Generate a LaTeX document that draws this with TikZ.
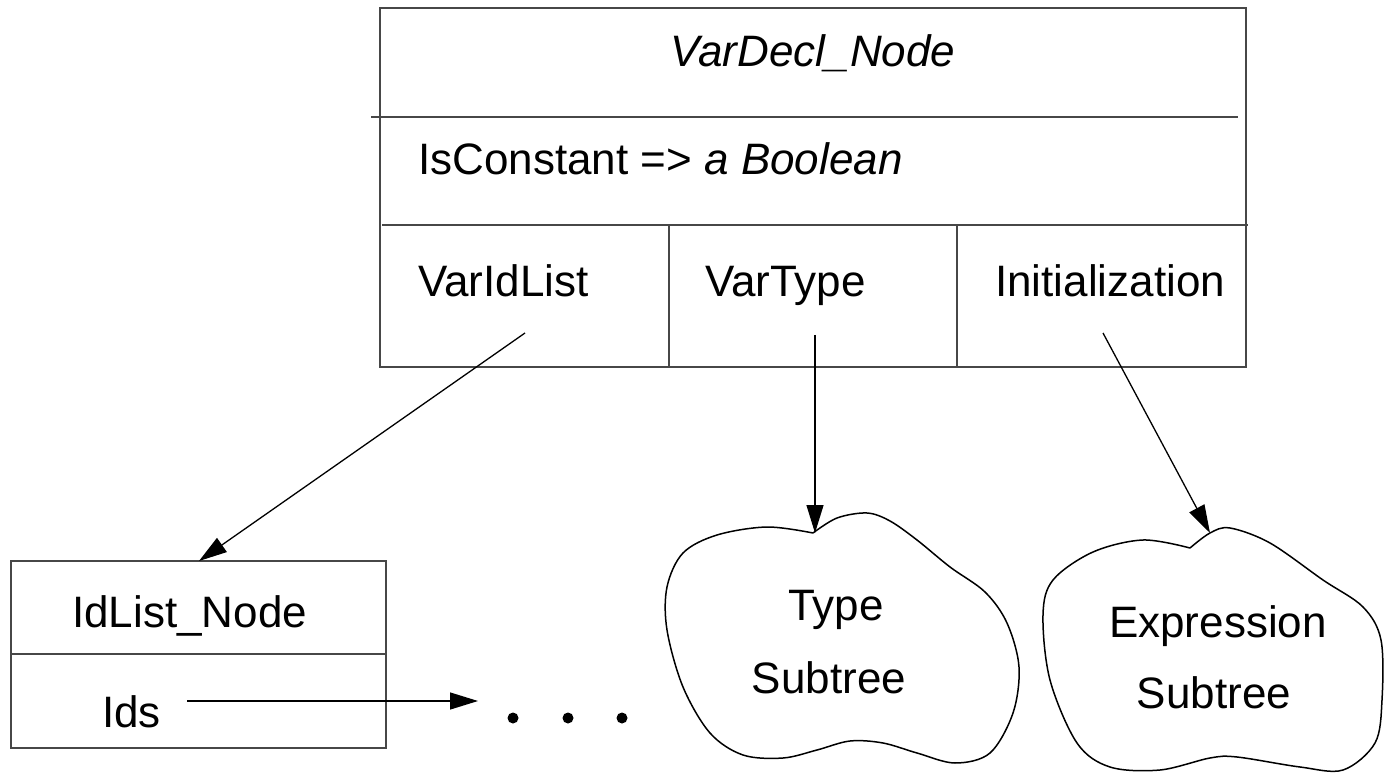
\documentclass[tikz,border=0pt]{standalone}
\usepackage{fontspec}
\setmainfont{Liberation Sans}
\usetikzlibrary{arrows.meta}

\tikzset{
  boxline/.style={draw=black!72, line width=2.2pt},
  link/.style={draw=black, line width=1.3pt, -{Triangle[length=28pt,width=17pt]}},
  cloudline/.style={draw=black, line width=1.5pt},
  label/.style={inner sep=0pt, font=\fontsize{44}{53}\selectfont},
  cell/.style={label, anchor=base west},
  mid/.style={label, anchor=base},
  dot/.style={circle, fill=black, inner sep=0pt, minimum size=11pt}
}

\begin{document}
\begin{tikzpicture}[x=1pt, y=-1pt]
\useasboundingbox (0,0) rectangle (1384,775);

% VarDecl node record
\draw[boxline] (380,8) rectangle (1246,367);
\draw[boxline] (371,117) -- (1238,117);
\draw[boxline] (382,225) -- (1248,225);
\draw[boxline] (669,225) -- (669,367);
\draw[boxline] (957,225) -- (957,367);

\node[mid] (title) at (813,67) {\itshape VarDecl\_Node};
\node[cell] (isconst) at (418,175) {IsConstant => \itshape a Boolean};
\node[cell] (varidlist) at (418,297) {VarIdList};
\node[cell] (vartype) at (705,297) {VarType};
\node[cell] (init) at (995,297) {Initialization};

% IdList node record
\draw[boxline] (11,561) rectangle (386,748);
\draw[boxline] (11,654) -- (386,654);
\node[cell] (idlist) at (72,627) {IdList\_Node};
\node[cell] (ids) at (102,727) {Ids};

% further list entries
\node[dot] (d1) at (513,718) {};
\node[dot] (d2) at (568,718) {};
\node[dot] (d3) at (622,718) {};

% subtree clouds
\coordinate (typedip) at (813,533);
\draw[cloudline] plot[smooth, tension=0.55] coordinates {
  (813,533) (837,518) (867,513) (890,521) (917,540) (950,567) (985,592)
  (1007,623) (1019,667) (1013,713) (990,753) (955,763) (917,753)
  (883,743) (850,741) (817,750) (783,758) (743,755) (710,733)
  (683,687) (667,630) (667,587) (683,553) (717,535) (767,527) (813,533)};
\node[mid] (typeA) at (836,620) {Type};
\node[mid] (typeB) at (829,693) {Subtree};

\coordinate (exprtop) at (1210,533);
\draw[cloudline] plot[smooth, tension=0.55] coordinates {
  (1190,548) (1210,533) (1230,528) (1270,543) (1323,580) (1363,607)
  (1381,640) (1382,700) (1375,743) (1343,770) (1300,767) (1237,757)
  (1210,758) (1160,770) (1110,767) (1077,743) (1050,680) (1043,615)
  (1053,580) (1093,552) (1143,540) (1190,548)};
\node[mid] (exprA) at (1218,637) {Expression};
\node[mid] (exprB) at (1214,708) {Subtree};

% pointers
\coordinate (p1) at (525,333);
\coordinate (p2) at (815,335);
\coordinate (p3) at (1103,333);
\coordinate (idlisttop) at (199,561);
\coordinate (typetop) at (815,533);
\coordinate (idsfrom) at (187,701);
\coordinate (idsto) at (478,701);

\draw[link] (p1) -- (idlisttop);
\draw[link] (p2) -- (typetop);
\draw[link] (p3) -- (exprtop);
\draw[link] (idsfrom) -- (idsto);
\end{tikzpicture}
\end{document}
